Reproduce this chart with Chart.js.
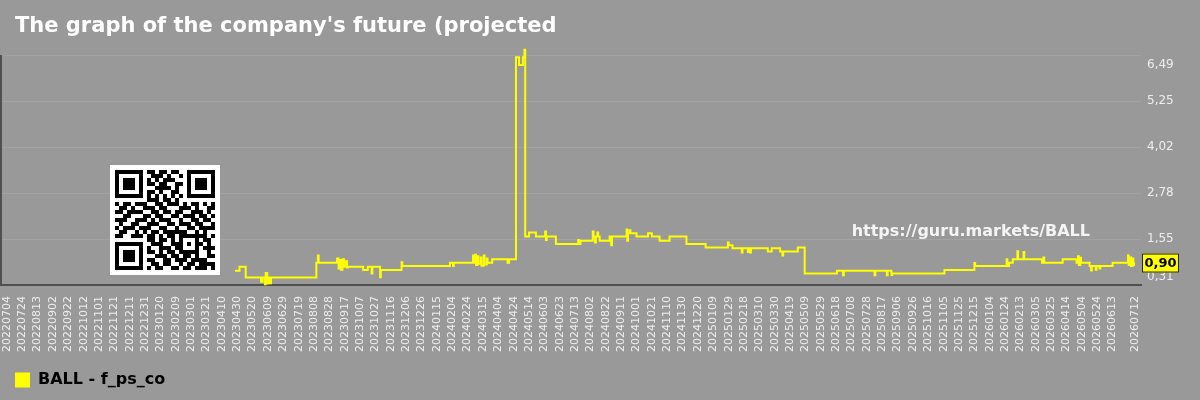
<!DOCTYPE html>
<html>
<head>
<meta charset="utf-8">
<script src="https://cdn.jsdelivr.net/npm/chart.js@4.4.0/dist/chart.umd.min.js"></script>
<style>
  html, body { margin: 0; padding: 0; background: #999999; }
  #wrap { width: 1200px; height: 400px; }
</style>
</head>
<body>
<div id="wrap"><canvas id="chart" width="1200" height="400"></canvas></div>
<script>
// --- data ---
const chartTitle = "The graph of the company's future (projected";
const seriesName = 'BALL - f_ps_co';
const watermark = 'https://guru.markets/BALL';

const tickDates = [
  '20220704','20220724','20220813','20220902','20220922','20221012','20221101','20221121',
  '20221211','20221231','20230120','20230209','20230301','20230321','20230410','20230430',
  '20230520','20230609','20230629','20230719','20230808','20230828','20230917','20231007',
  '20231027','20231116','20231206','20231226','20240115','20240204','20240224','20240315',
  '20240404','20240424','20240514','20240603','20240623','20240713','20240802','20240822',
  '20240911','20241001','20241021','20241110','20241130','20241220','20250109','20250129',
  '20250218','20250310','20250330','20250419','20250509','20250529','20250618','20250708',
  '20250728','20250817','20250906','20250926','20251016','20251105','20251125','20251215',
  '20260104','20260124','20260213','20260305','20260325','20260414','20260504','20260524',
  '20260613','20260712'
];

const yMin = 0.31;
const yMax = 6.49;
const yTickLabels = ['0,31', '1,55', '2,78', '4,02', '5,25', '6,49'];

// change points of the stepped series (date, value)
const pointDates = [
  '20230427','20230503','20230511','20230531','20230602','20230605','20230606','20230608',
  '20230609','20230611','20230613','20230811','20230813','20230814','20230907','20230909',
  '20230911','20230912','20230914','20230916','20230918','20230920','20230921','20231011',
  '20231017','20231022','20231023','20231102','20231103','20231130','20231201','20240201',
  '20240205','20240206','20240302','20240303','20240305','20240306','20240308','20240309',
  '20240312','20240313','20240316','20240317','20240320','20240321','20240327','20240416',
  '20240418','20240427','20240501','20240506','20240508','20240509','20240514','20240523',
  '20240604','20240605','20240606','20240618','20240717','20240718','20240720','20240805',
  '20240806','20240808','20240809','20240811','20240812','20240814','20240827','20240829',
  '20240830','20240918','20240919','20240920','20240922','20240923','20241001','20241016',
  '20241021','20241031','20241113','20241205','20241230','20250128','20250129','20250203',
  '20250215','20250216','20250223','20250224','20250226','20250227','20250321','20250326',
  '20250406','20250409','20250410','20250429','20250508','20250619','20250627','20250628',
  '20250807','20250808','20250823','20250824','20250829','20250830','20251106','20251215',
  '20251216','20260126','20260127','20260129','20260203','20260209','20260210','20260217',
  '20260218','20260313','20260315','20260316','20260409','20260427','20260429','20260430',
  '20260502','20260503','20260514','20260516','20260517','20260522','20260523','20260527',
  '20260528','20260613','20260703','20260704','20260706','20260707','20260709','20260710',
  '20260711','20260712'
];
const pointValues = [
  0.69, 0.80, 0.51, 0.40, 0.51, 0.33, 0.63, 0.35,
  0.51, 0.36, 0.51, 0.91, 1.10, 0.91, 1.02, 0.75,
  0.98, 0.72, 1.00, 0.80, 0.95, 0.78, 0.80, 0.71,
  0.80, 0.62, 0.80, 0.52, 0.71, 0.92, 0.82, 0.91,
  0.82, 0.91, 1.10, 0.91, 1.12, 0.85, 1.08, 0.88,
  1.05, 0.83, 1.10, 0.86, 1.02, 0.91, 1.00, 0.91,
  1.00, 6.43, 6.22, 6.43, 6.63, 1.61, 1.72, 1.61,
  1.75, 1.52, 1.61, 1.41, 1.52, 1.41, 1.50, 1.75,
  1.61, 1.45, 1.61, 1.72, 1.61, 1.50, 1.61, 1.38,
  1.61, 1.80, 1.50, 1.70, 1.78, 1.70, 1.61, 1.70,
  1.61, 1.50, 1.61, 1.41, 1.32, 1.45, 1.38, 1.30,
  1.18, 1.30, 1.20, 1.30, 1.18, 1.30, 1.21, 1.30,
  1.21, 1.10, 1.21, 1.32, 0.62, 0.69, 0.57, 0.69,
  0.57, 0.69, 0.57, 0.69, 0.58, 0.62, 0.71, 0.90,
  0.82, 1.00, 0.82, 0.91, 1.00, 1.22, 1.00, 1.20,
  1.00, 0.91, 1.05, 0.91, 1.00, 0.91, 1.08, 0.85,
  1.04, 0.91, 0.82, 0.70, 0.82, 0.72, 0.82, 0.75,
  0.82, 0.91, 1.10, 0.85, 1.05, 0.82, 1.02, 0.85,
  0.90, 0.90
];

// QR code modules (1 = dark)
const qrRows = [
  '1111111011011011001111111',
  '1000001001110100101000001',
  '1011101010101110001011101',
  '1011101011011001101011101',
  '1011101000111101001011101',
  '1000001011010011001000001',
  '1111111010101010101111111',
  '0000000011101101000000000',
  '1011011100110111010110101',
  '0110100111011000111010011',
  '1101111001101101100111010',
  '0011000110110011011101101',
  '1110011101011100100110110',
  '0100110011100110111011001',
  '1011101110011001001101111',
  '0110010101101111110010100',
  '1100111011010110111111101',
  '0000000011011010100010110',
  '1111111001110011101011010',
  '1000001010011101100010111',
  '1011101011010110111110010',
  '1011101000111011011010011',
  '1011101011001101110111100',
  '1000001001101100101101111',
  '1111111010110011011011101'
];

// --- helpers ---
const FONT = '"DejaVu Sans", sans-serif';
const day0 = Date.UTC(2022, 6, 4);
function dayNum(s) {
  return Math.round((Date.UTC(+s.slice(0, 4), +s.slice(4, 6) - 1, +s.slice(6, 8)) - day0) / 86400000);
}

const PLOT_BOTTOM = 285;

const decor = {
  id: 'decor',
  beforeDraw(chart) {
    const ctx = chart.ctx;
    ctx.save();
    ctx.fillStyle = '#999999';
    ctx.fillRect(0, 0, chart.width, chart.height);
    ctx.restore();
  },
  beforeDatasetsDraw(chart) {
    const ctx = chart.ctx;
    const area = chart.chartArea;
    ctx.save();
    // left axis line
    ctx.fillStyle = '#505050';
    ctx.fillRect(area.left, area.top, 2, area.bottom - area.top);

    // qr code
    ctx.fillStyle = '#ffffff';
    ctx.fillRect(110, 165, 110, 110);
    ctx.fillStyle = '#000000';
    qrRows.forEach((row, r) => {
      for (let c = 0; c < row.length; c++) {
        if (row[c] === '1') ctx.fillRect(115 + c * 4, 170 + r * 4, 4, 4);
      }
    });

    // watermark
    ctx.fillStyle = '#f4f4f4';
    ctx.font = 'bold 16px ' + FONT;
    ctx.textAlign = 'right';
    ctx.textBaseline = 'alphabetic';
    ctx.fillText(watermark, 1090, 236);
    ctx.restore();
  },
  afterDraw(chart) {
    const ctx = chart.ctx;
    const ys = chart.scales.y;
    ctx.save();

    // title
    ctx.fillStyle = '#ffffff';
    ctx.font = 'bold 21px ' + FONT;
    ctx.textAlign = 'left';
    ctx.textBaseline = 'alphabetic';
    ctx.fillText(chartTitle, 15, 32);

    // y tick labels, outer ones pulled inside the plot
    ctx.fillStyle = '#eeeeee';
    ctx.font = '12px ' + FONT;
    ctx.textBaseline = 'middle';
    const n = ys.ticks.length;
    ys.ticks.forEach((t, i) => {
      let y = ys.getPixelForValue(t.value);
      if (i === 0) y -= 8;
      if (i === n - 1) y += 10;
      ctx.fillText(yTickLabels[i], ys.left + 6, y);
    });

    // last value badge
    const last = pointValues[pointValues.length - 1];
    const py = ys.getPixelForValue(last);
    ctx.fillStyle = '#ffff00';
    ctx.fillRect(1142, py - 9.5, 37, 19);
    ctx.strokeStyle = '#222222';
    ctx.lineWidth = 1;
    ctx.strokeRect(1142.5, py - 9, 36, 18);
    ctx.fillStyle = '#000000';
    ctx.font = 'bold 13px ' + FONT;
    ctx.textAlign = 'center';
    ctx.fillText(last.toFixed(2).replace('.', ','), 1160.5, py + 0.5);
    ctx.restore();
  }
};

new Chart(document.getElementById('chart'), {
  type: 'line',
  data: {
    datasets: [{
      label: seriesName,
      data: pointDates.map((d, i) => ({ x: dayNum(d), y: pointValues[i] })),
      borderColor: '#ffff00',
      backgroundColor: '#ffff00',
      borderWidth: 2,
      stepped: 'before',
      pointRadius: 0,
      fill: false,
      clip: false
    }]
  },
  options: {
    responsive: false,
    animation: false,
    devicePixelRatio: 1,
    layout: { padding: { top: 55, left: 0, right: 0, bottom: 2 } },
    plugins: {
      title: { display: false },
      tooltip: { enabled: false },
      legend: {
        position: 'bottom',
        align: 'start',
        labels: {
          boxWidth: 15,
          boxHeight: 15,
          padding: 15,
          color: '#ffffff',
          font: { family: FONT, size: 16, weight: 'bold' },
          generateLabels: () => [{
            text: seriesName, fillStyle: '#ffff00', strokeStyle: '#ffff00',
            lineWidth: 0, hidden: false, datasetIndex: 0
          }]
        }
      }
    },
    scales: {
      x: {
        type: 'linear',
        min: dayNum('20220625'),
        max: dayNum('20260720'),
        afterBuildTicks: s => { s.ticks = tickDates.map(d => ({ value: dayNum(d) })); },
        afterFit: s => {
          s.paddingLeft = 0;
          s.paddingRight = 0;
          s.height = s.chart.height - 2 - s.chart.legend.height - PLOT_BOTTOM;
        },
        grid: { display: false, drawTicks: false },
        border: { display: true, color: '#505050', width: 2 },
        ticks: {
          autoSkip: false,
          minRotation: 90,
          maxRotation: 90,
          padding: 11,
          color: '#eeeeee',
          font: { family: FONT, size: 11 },
          callback: (v, i) => tickDates[i]
        }
      },
      y: {
        position: 'right',
        min: yMin,
        max: yMax,
        afterBuildTicks: s => {
          s.ticks = yTickLabels.map((_, i) => ({ value: yMin + i * (yMax - yMin) / (yTickLabels.length - 1) }));
        },
        afterFit: s => { s.width = 59; },
        grid: { color: '#a3a3a3', lineWidth: 1, drawTicks: false },
        border: { display: false },
        ticks: { display: false }
      }
    }
  },
  plugins: [decor]
});
</script>
</body>
</html>
